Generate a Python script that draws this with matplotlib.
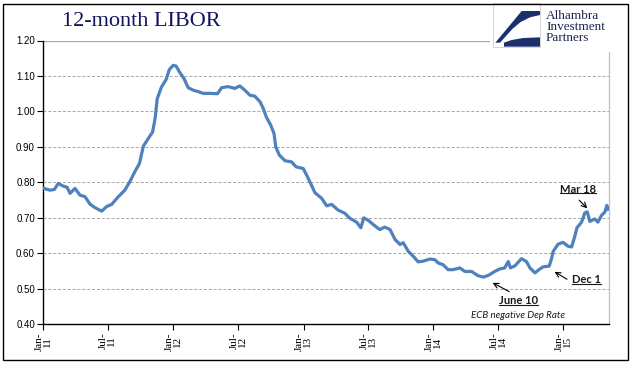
import pandas as pd
import matplotlib.pyplot as plt
from matplotlib.patches import Rectangle, Polygon
from matplotlib.lines import Line2D

# ----------------------------
# DATA
# ----------------------------
dates = [
    "2011-01-03", "2011-01-20", "2011-02-01", "2011-02-12", "2011-02-25", "2011-03-09",
    "2011-03-17", "2011-03-31", "2011-04-14", "2011-04-28", "2011-05-12", "2011-05-26",
    "2011-06-14", "2011-06-28", "2011-07-12", "2011-07-31", "2011-08-18", "2011-09-01",
    "2011-09-15", "2011-09-28", "2011-10-09", "2011-10-23", "2011-11-04", "2011-11-11",
    "2011-11-17", "2011-11-29", "2011-12-12", "2011-12-21", "2012-01-01", "2012-01-09",
    "2012-01-20", "2012-01-31", "2012-02-12", "2012-02-26", "2012-03-11", "2012-03-25",
    "2012-04-13", "2012-05-04", "2012-05-16", "2012-06-03", "2012-06-22", "2012-07-06",
    "2012-07-20", "2012-08-03", "2012-08-17", "2012-09-01", "2012-09-10", "2012-09-19",
    "2012-10-01", "2012-10-10", "2012-10-15", "2012-10-25", "2012-11-10", "2012-11-28",
    "2012-12-11", "2012-12-31", "2013-01-11", "2013-01-21", "2013-02-02", "2013-02-21",
    "2013-03-07", "2013-03-21", "2013-04-08", "2013-04-27", "2013-05-11", "2013-05-30",
    "2013-06-11", "2013-06-19", "2013-07-02", "2013-07-16", "2013-08-03", "2013-08-17",
    "2013-09-01", "2013-09-15", "2013-09-29", "2013-10-08", "2013-10-22", "2013-11-05",
    "2013-11-19", "2013-12-03", "2013-12-22", "2014-01-05", "2014-01-14", "2014-01-28",
    "2014-02-11", "2014-02-25", "2014-03-16", "2014-03-30", "2014-04-18", "2014-05-06",
    "2014-05-21", "2014-06-04", "2014-06-11", "2014-06-22", "2014-07-06", "2014-07-20",
    "2014-07-30", "2014-08-05", "2014-08-18", "2014-09-05", "2014-09-19", "2014-09-29",
    "2014-10-13", "2014-10-27", "2014-11-05", "2014-11-22", "2014-11-29", "2014-12-03",
    "2014-12-17", "2014-12-31", "2015-01-14", "2015-01-24", "2015-02-02", "2015-02-08",
    "2015-02-21", "2015-03-02", "2015-03-09", "2015-03-16", "2015-03-30", "2015-04-08",
    "2015-04-18", "2015-04-27", "2015-05-03", "2015-05-06",
]
libor = [
    0.783, 0.778, 0.780, 0.797, 0.790, 0.786,
    0.769, 0.783, 0.764, 0.760, 0.739, 0.729,
    0.719, 0.732, 0.738, 0.760, 0.778, 0.802,
    0.830, 0.853, 0.902, 0.924, 0.942, 0.980,
    1.036, 1.069, 1.090, 1.118, 1.130, 1.128,
    1.109, 1.093, 1.067, 1.060, 1.056, 1.051,
    1.051, 1.050, 1.067, 1.070, 1.065, 1.072,
    1.060, 1.046, 1.043, 1.027, 1.008, 0.983,
    0.961, 0.938, 0.900, 0.877, 0.861, 0.858,
    0.844, 0.839, 0.818, 0.797, 0.771, 0.755,
    0.734, 0.738, 0.722, 0.713, 0.699, 0.688,
    0.672, 0.700, 0.693, 0.681, 0.667, 0.674,
    0.667, 0.639, 0.625, 0.630, 0.606, 0.592,
    0.576, 0.578, 0.584, 0.582, 0.573, 0.568,
    0.554, 0.554, 0.559, 0.549, 0.549, 0.537,
    0.533, 0.538, 0.542, 0.549, 0.556, 0.559,
    0.577, 0.559, 0.565, 0.585, 0.577, 0.559,
    0.545, 0.556, 0.562, 0.564, 0.587, 0.605,
    0.626, 0.631, 0.620, 0.618, 0.648, 0.672,
    0.688, 0.714, 0.717, 0.690, 0.697, 0.688,
    0.707, 0.716, 0.735, 0.724,
]
tick_dates = ["2011-01-01", "2011-07-01", "2012-01-01", "2012-07-01", "2013-01-01",
              "2013-07-01", "2014-01-01", "2014-07-01", "2015-01-01"]
tick_labels = ["Jan-\n11", "Jul-\n11", "Jan-\n12", "Jul-\n12", "Jan-\n13",
               "Jul-\n13", "Jan-\n14", "Jul-\n14", "Jan-\n15"]
y_ticks = [0.40, 0.50, 0.60, 0.70, 0.80, 0.90, 1.00, 1.10, 1.20]

# annotations: (label, text position, arrow tail, arrow tip)
notes = [
    ("Mar 18", ("2015-02-10", 0.781), ("2015-02-14", 0.750), ("2015-03-09", 0.727)),
    ("Dec 1", ("2015-03-06", 0.526), ("2015-01-11", 0.527), ("2014-12-07", 0.548)),
    ("June 10", ("2014-08-29", 0.466), ("2014-08-02", 0.492), ("2014-06-16", 0.517)),
]

# ----------------------------
# FIGURE
# ----------------------------
W, H = 641, 375
fig = plt.figure(figsize=(W / 100, H / 100), dpi=100)
fig.patch.set_facecolor("white")

ax = fig.add_axes([43.3 / W, 1 - 324.3 / H, (609 - 43.3) / W, (324.3 - 40.5) / H])

x = pd.to_datetime(dates)
ax.plot(x, libor, color="#4f81bd", lw=2.3, solid_joinstyle="round", zorder=3)

ax.set_ylim(0.40, 1.20)
ax.set_xlim(pd.Timestamp("2011-01-01"), pd.Timestamp("2015-05-09"))

ax.set_yticks(y_ticks)
ax.set_yticklabels([f"{v:.2f}" for v in y_ticks], fontsize=7, family="Liberation Sans")
ax.set_xticks(pd.to_datetime(tick_dates))
ax.set_xticklabels(tick_labels, rotation=90, fontsize=8, family="Liberation Serif",
                   ha="center", va="top", multialignment="center", linespacing=0.9)

ax.tick_params(axis="y", direction="out", length=4, width=0.8, pad=2)
ax.tick_params(axis="x", direction="out", length=4, width=0.8, pad=2)

for v in y_ticks[1:-1]:
    ax.axhline(v, color="#a6a6a6", lw=0.7, ls=(0, (3, 2)), zorder=1)
ax.axhline(1.20, color="#a6a6a6", lw=0.9, zorder=1)

ax.spines["top"].set_visible(False)
ax.spines["right"].set_color("#bfbfbf")
ax.spines["right"].set_linewidth(0.9)
ax.spines["left"].set_linewidth(1.0)
ax.spines["bottom"].set_linewidth(1.0)

# ----------------------------
# ANNOTATIONS
# ----------------------------
underlined = []
for label, txt_pos, tail, tip in notes:
    t = ax.text(pd.Timestamp(txt_pos[0]), txt_pos[1], label, fontsize=8, fontweight="bold",
                family="Lato", color="#1a1a1a", ha="center", va="center", zorder=6)
    underlined.append(t)
    ax.annotate("", xy=(pd.Timestamp(tip[0]), tip[1]), xytext=(pd.Timestamp(tail[0]), tail[1]),
                arrowprops=dict(arrowstyle="->", color="black", lw=0.8, mutation_scale=9,
                                shrinkA=0, shrinkB=0), zorder=6)

ax.text(pd.Timestamp("2014-08-27"), 0.425, "ECB negative Dep Rate", fontsize=7,
        style="italic", family="Lato", color="#1a1a1a", ha="center", va="center")

# ----------------------------
# TITLE, LOGO, FRAME
# ----------------------------
fig.text(62 / W, 1 - 22 / H, "12-month LIBOR", fontsize=16, family="Liberation Serif",
         color="#131360", ha="left", va="center")


def logo_pts(pts):
    # logo outline sketched on a 3x grid anchored at (440, 0)
    return [((440 + a / 3) / W, 1 - (b / 3) / H) for a, b in pts]


# white block behind the logo
fig.add_artist(Rectangle((490 / W, 1 - 52 / H), 130 / W, 48 / H, transform=fig.transFigure,
                         facecolor="white", edgecolor="none", zorder=5))
swoosh_top = [(245, 33), (300, 33), (300, 45), (270, 52), (242, 66), (218, 86),
              (198, 108), (180, 128), (166, 128)]
swoosh_bottom = [(192, 128), (215, 120), (250, 114), (300, 112), (300, 140), (192, 140)]
for pts in (swoosh_top, swoosh_bottom):
    fig.add_artist(Polygon(logo_pts(pts), closed=True, transform=fig.transFigure,
                           facecolor="#1c2f6b", edgecolor="none", zorder=6))
fig.add_artist(Rectangle((493 / W, 1 - 47 / H), 47 / W, 44 / H, transform=fig.transFigure,
                         facecolor="none", edgecolor="#d0d0d0", lw=0.6, zorder=6))
fig.text(546 / W, 1 - 27 / H, "Alhambra\nInvestment\nPartners", fontsize=9.5,
         family="Liberation Serif", color="#1c2550", ha="left", va="center",
         linespacing=0.85, zorder=7)

fig.add_artist(Rectangle((3 / W, 1 - 360 / H), 625 / W, 356 / H, transform=fig.transFigure,
                         facecolor="none", edgecolor="black", lw=1.0, zorder=8))

# underline the bold notes
fig.canvas.draw()
inv = fig.transFigure.inverted()
for t in underlined:
    bb = t.get_window_extent()
    (x0, y0), (x1, _) = inv.transform([(bb.x0, bb.y0 + 1.5), (bb.x1, bb.y0 + 1.5)])
    fig.add_artist(Line2D([x0, x1], [y0, y0], transform=fig.transFigure,
                          color="#1a1a1a", lw=0.8, zorder=7))

fig.savefig("out.png", dpi=100)
